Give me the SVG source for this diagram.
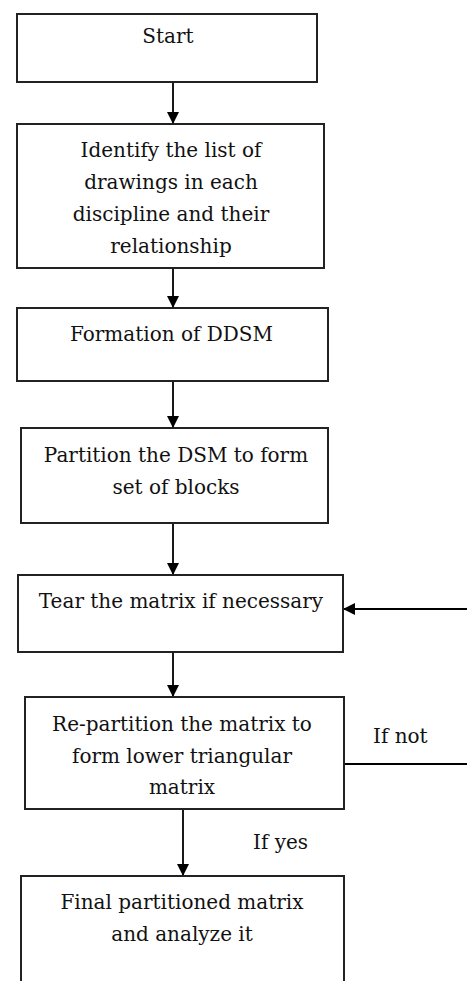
<svg xmlns="http://www.w3.org/2000/svg" width="467" height="981" viewBox="0 0 467 981">
<defs>
<marker id="ah" markerWidth="12" markerHeight="12" refX="12" refY="6" orient="auto" markerUnits="userSpaceOnUse">
<path d="M0,0 L12,6 L0,12 Z" fill="#000"/>
</marker>
<style>
.box{fill:#fff;stroke:#222;stroke-width:2}
.t{font-family:"DejaVu Serif","Liberation Serif",serif;font-size:20px;fill:#111;text-anchor:middle}
.l{font-family:"DejaVu Serif","Liberation Serif",serif;font-size:20px;fill:#111}
.c{fill:none;stroke:#000;stroke-width:1.8}
</style>
</defs>
<rect width="467" height="981" fill="#fff"/>
<g id="connectors">
<line class="c" x1="173" y1="82" x2="173" y2="124" marker-end="url(#ah)"/>
<line class="c" x1="173" y1="268" x2="173" y2="308" marker-end="url(#ah)"/>
<line class="c" x1="173" y1="381" x2="173" y2="428" marker-end="url(#ah)"/>
<line class="c" x1="173" y1="523" x2="173" y2="575" marker-end="url(#ah)"/>
<line class="c" x1="173" y1="652" x2="173" y2="697" marker-end="url(#ah)"/>
<line class="c" x1="183" y1="809" x2="183" y2="876" marker-end="url(#ah)"/>
<line class="c" x1="344" y1="764" x2="467" y2="764"/>
<line class="c" x1="467" y1="609" x2="343" y2="609" marker-end="url(#ah)"/>
<text class="l" x="373" y="743">If not</text>
<text class="l" x="253" y="849">If yes</text>
</g>
<g id="start">
<rect class="box" x="17" y="14" width="300" height="68"/>
<text class="t" x="168" y="43">Start</text>
</g>
<g id="identify">
<rect class="box" x="17" y="124" width="307" height="144"/>
<text class="t" x="171" y="157">Identify the list of</text>
<text class="t" x="171" y="189">drawings in each</text>
<text class="t" x="171" y="221">discipline and their</text>
<text class="t" x="171" y="253">relationship</text>
</g>
<g id="formation">
<rect class="box" x="17" y="308" width="311" height="73"/>
<text class="t" x="171.5" y="341">Formation of DDSM</text>
</g>
<g id="partition">
<rect class="box" x="21" y="428" width="307" height="95"/>
<text class="t" x="176" y="462">Partition the DSM to form</text>
<text class="t" x="176" y="494">set of blocks</text>
</g>
<g id="tear">
<rect class="box" x="18" y="575" width="325" height="77"/>
<text class="t" x="181" y="608">Tear the matrix if necessary</text>
</g>
<g id="repartition">
<rect class="box" x="25" y="697" width="319" height="112"/>
<text class="t" x="182" y="731">Re-partition the matrix to</text>
<text class="t" x="182" y="763">form lower triangular</text>
<text class="t" x="182" y="794">matrix</text>
</g>
<g id="final">
<rect class="box" x="21" y="876" width="323" height="120"/>
<text class="t" x="182" y="909">Final partitioned matrix</text>
<text class="t" x="182" y="941">and analyze it</text>
</g>
</svg>
